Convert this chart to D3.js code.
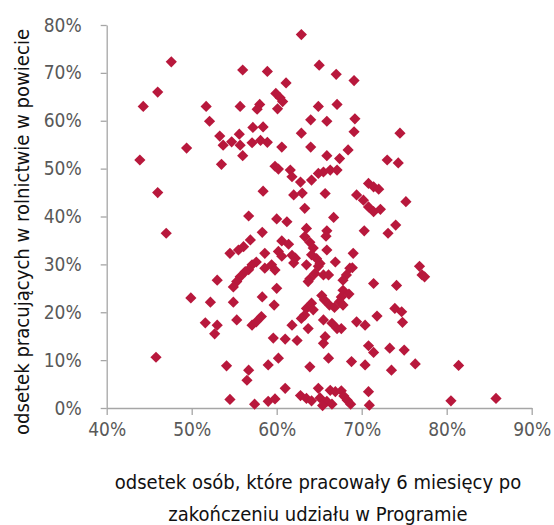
<!DOCTYPE html>
<html><head><meta charset="utf-8">
<script src="https://cdn.jsdelivr.net/npm/d3@7"></script>
<style>
html,body{margin:0;padding:0;background:#fff;}
svg{display:block;}
</style></head>
<body>
<svg id="chart" width="554" height="525"></svg>
<script>
// x: share of people working 6 months after programme (%), y: share working in agriculture (%)
const xValues = [62.9,47.6,65.0,56.0,58.9,67.0,69.1,61.1,46.0,59.9,60.4,60.7,60.1,44.3,51.7,55.7,58.0,57.7,64.9,67.1,
52.1,64.0,65.9,69.2,57.2,58.4,69.1,62.9,74.5,53.3,55.6,53.7,54.7,55.7,57.1,58.1,58.9,60.6,64.0,68.4,
49.4,43.9,53.5,56.0,65.9,67.4,73.0,74.3,59.8,60.2,61.6,61.8,62.8,64.1,64.9,65.5,66.3,67.1,46.0,58.4,
62.0,63.0,65.7,69.4,70.2,70.8,71.4,72.2,70.8,71.4,72.0,75.2,63.3,66.7,56.7,60.0,61.2,47.0,63.5,63.3,
58.3,56.9,56.1,55.5,54.5,58.6,60.6,61.4,60.2,60.6,62.2,61.8,63.5,57.6,57.1,56.7,56.3,55.7,55.3,54.9,
58.6,59.4,59.8,60.0,58.3,54.9,59.7,55.3,57.1,57.6,58.2,63.5,63.3,62.9,61.8,63.7,59.6,61.0,62.4,60.2,
59.0,54.1,56.7,56.5,63.9,61.0,54.5,57.4,59.0,59.8,62.8,63.5,64.1,65.9,65.8,65.9,69.0,66.9,68.6,68.2,
67.8,65.1,65.5,66.1,64.5,71.4,74.1,67.8,67.6,67.4,67.8,65.3,65.6,66.2,66.8,64.1,64.3,65.5,66.5,67.1,
67.6,69.4,70.4,65.7,65.5,70.8,71.4,73.3,66.1,68.8,70.4,73.5,64.9,66.3,66.9,67.6,70.8,65.1,65.9,66.5,
67.9,68.3,68.7,70.9,65.4,80.5,85.8,81.4,76.3,75.0,73.9,74.7,74.8,71.8,76.8,77.1,77.4,74.0,73.1,70.3,
45.8,49.9,52.2,51.6,53.0,52.7,53.0,63.9,64.3,64.1,64.7,64.9,63.9,63.7,62.0,68.5,68.9];
const yValues = [78.0,72.3,71.6,70.6,70.3,69.7,68.4,67.9,66.0,65.7,64.8,64.0,62.5,63.0,63.0,63.0,63.4,62.4,63.0,63.4,
59.9,60.2,59.9,60.4,58.6,58.7,57.7,57.4,57.4,56.8,57.2,54.9,55.6,54.9,55.4,55.9,55.5,54.5,54.5,53.9,
54.3,51.8,50.9,52.7,52.7,52.1,51.8,51.2,50.5,49.9,49.7,48.3,47.2,47.6,49.0,49.3,49.7,49.7,45.0,45.3,
44.5,44.9,44.8,44.5,43.4,42.0,41.0,41.5,46.9,46.2,45.7,43.1,41.7,39.8,40.1,39.5,38.9,36.5,37.5,35.8,
36.7,35.1,33.7,33.0,32.3,32.3,34.9,34.2,32.7,31.7,31.3,31.9,29.9,30.5,29.9,28.9,28.5,27.4,26.4,25.3,
29.2,29.9,28.8,25.0,23.2,22.1,21.5,18.4,17.3,18.0,19.1,20.8,19.4,18.7,17.3,16.6,14.6,14.4,14.1,10.4,
9.0,8.8,7.9,5.8,8.6,4.1,1.8,0.8,1.4,1.9,2.6,2.0,1.5,37.0,35.9,33.0,32.3,30.5,29.2,27.8,
26.7,30.2,27.8,27.8,28.1,26.0,25.6,24.6,23.2,22.2,21.5,23.5,22.6,21.5,21.0,21.9,20.5,18.4,17.7,16.6,
16.6,18.0,17.3,14.9,13.5,13.0,11.6,12.5,10.4,9.7,9.0,7.9,4.1,3.7,3.4,3.6,3.4,2.1,1.4,0.8,
2.5,1.6,0.8,0.6,0.5,1.5,2.0,8.9,9.2,12.1,20.8,20.1,17.9,19.2,29.6,27.8,27.4,38.2,36.5,37.0,
10.6,23.0,22.1,17.8,17.3,15.5,26.7,34.6,33.4,32.0,31.2,29.6,27.0,26.4,30.3,23.8,29.3];
const xTicks = [40,50,60,70,80,90];
const yTicks = [0,10,20,30,40,50,60,70,80];
const xTitleLines = ["odsetek osób, które pracowały 6 miesięcy po","zakończeniu udziału w Programie"];
const yTitle = "odsetek pracujących w rolnictwie w powiecie";

const points = xValues.map((v,i)=>({x:v,y:yValues[i]}));
const svg = d3.select("#chart");
const FONT = "'DejaVu Sans Condensed','DejaVu Sans',sans-serif";

const x = d3.scaleLinear().domain([40,90]).range([106.7,531.7]);
const y = d3.scaleLinear().domain([0,80]).range([408,25]);

const xAxis = svg.append("g").attr("transform","translate(0,408)")
  .call(d3.axisBottom(x).tickValues(xTicks).tickFormat(d=>d+"%").tickSize(7).tickPadding(8).tickSizeOuter(0));
const yAxis = svg.append("g").attr("transform","translate(106.7,0)")
  .call(d3.axisLeft(y).tickValues(yTicks).tickFormat(d=>d+"%").tickSize(6).tickPadding(19).tickSizeOuter(0));
[xAxis,yAxis].forEach(g=>{
  g.selectAll("path,line").attr("stroke","#a6a6a6").attr("stroke-width",1.3);
  g.selectAll("text").attr("fill","#595959").style("font-family",FONT)
    .style("font-stretch","condensed").style("font-size","19px");
});

const diamond = "M0,-5.6L5.6,0L0,5.6L-5.6,0Z";
svg.append("g").selectAll("path").data(points).join("path")
  .attr("d",diamond)
  .attr("transform",d=>`translate(${x(d.x)},${y(d.y)})`)
  .attr("fill","#b8183c");

svg.append("text").attr("transform","translate(29,232) rotate(-90)")
  .attr("text-anchor","middle").attr("fill","#111")
  .style("font-family",FONT).style("font-stretch","condensed")
  .style("font-size","20px").attr("textLength",406).attr("lengthAdjust","spacingAndGlyphs").text(yTitle);

svg.append("g").selectAll("text").data(xTitleLines).join("text")
  .attr("x",318).attr("y",(d,i)=>489+i*32)
  .attr("text-anchor","middle").attr("fill","#111")
  .style("font-family",FONT).style("font-stretch","condensed")
  .style("font-size","20px").text(d=>d);
</script>
</body></html>
